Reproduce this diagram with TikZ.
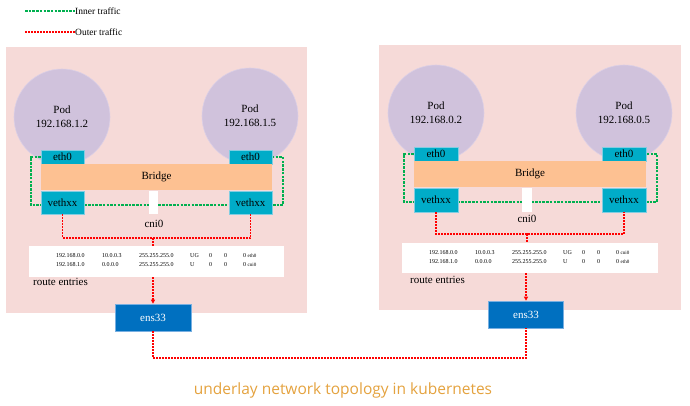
\documentclass[tikz,border=0pt]{standalone}
\usepackage{fontspec}
\setmainfont{Liberation Serif}
\newfontfamily\capfont{Open Sans}
\usetikzlibrary{arrows.meta}
\pgfdeclarelayer{bg}
\pgfdeclarelayer{mid}
\pgfsetlayers{bg,mid,main}
\definecolor{panelbg}{RGB}{246,218,216}
\definecolor{podc}{RGB}{208,194,220}
\definecolor{podb}{RGB}{220,208,230}
\definecolor{cyanb}{RGB}{0,172,200}
\definecolor{cyanl}{RGB}{130,205,225}
\definecolor{bridgec}{RGB}{253,193,146}
\definecolor{ensc}{RGB}{0,112,192}
\definecolor{ensl}{RGB}{120,175,225}
\definecolor{gline}{RGB}{0,176,80}
\definecolor{rline}{RGB}{255,0,0}
\definecolor{capc}{RGB}{228,162,62}
\newcommand{\rtrow}[7]{\makebox[46pt][l]{#1}\makebox[37pt][l]{#2}\makebox[51pt][l]{#3}\makebox[19pt][l]{#4}\makebox[15pt][l]{#5}\makebox[19pt][l]{#6}{#7}}
\tikzset{
  panel/.style={fill=panelbg, draw=none, inner sep=0pt},
  pod/.style={circle, fill=podc, draw=podb, line width=0.6pt, minimum size=96pt, inner sep=0pt, align=center, font=\fontsize{11}{14}\selectfont},
  ifbox/.style={rectangle, fill=cyanb, draw=cyanl, line width=0.6pt, inner sep=0pt, font=\fontsize{11}{13}\selectfont},
  bridgebox/.style={rectangle, fill=bridgec, draw=none, inner sep=0pt, font=\fontsize{11}{13}\selectfont},
  cnibar/.style={rectangle, fill=white, draw=none, inner sep=0pt, minimum width=9pt, minimum height=23pt},
  routebox/.style={rectangle, fill=white, draw=none, inner sep=0pt},
  routetxt/.style={anchor=west, inner sep=0pt, font=\fontsize{6}{7}\selectfont},
  ensbox/.style={rectangle, fill=ensc, draw=ensl, line width=0.6pt, inner sep=0pt, text=white, font=\fontsize{11}{13}\selectfont, minimum width=76pt, minimum height=27pt},
  lbl/.style={inner sep=0pt, font=\fontsize{11}{13}\selectfont},
  greenl/.style={draw=gline, line width=1.1pt, dash pattern=on 2.5pt off 1.2pt},
  redl/.style={draw=rline, line width=1.1pt, dash pattern=on 2pt off 1pt},
  redarrow/.style={redl, -{Triangle[length=4pt,width=4pt]}},
}
\begin{document}
\begin{tikzpicture}[x=1pt,y=-1pt]
\useasboundingbox (0,0) rectangle (690,406);

% legend
\coordinate (lg1) at (25,11);
\coordinate (lg2) at (25,32);
\node[anchor=west, inner sep=0pt, font=\fontsize{9.5}{11}\selectfont] (leg1) at (75,11) {Inner traffic};
\node[anchor=west, inner sep=0pt, font=\fontsize{9.5}{11}\selectfont] (leg2) at (75,32) {Outer traffic};
\draw[greenl] (lg1) -- (leg1.west);
\draw[redl] (lg2) -- (leg2.west);

% panels and pods (background layer)
\begin{pgfonlayer}{bg}
\node[panel, minimum width=301pt, minimum height=266pt] (panelL) at (156.5,180) {};
\node[panel, minimum width=302pt, minimum height=265pt] (panelR) at (530,177.5) {};
\node[pod] (podL1) at (62,117) {Pod\\192.168.1.2};
\node[pod] (podL2) at (250,116) {Pod\\192.168.1.5};
\node[pod] (podR1) at (436,113) {Pod\\192.168.0.2};
\node[pod] (podR2) at (624,113) {Pod\\192.168.0.5};
\end{pgfonlayer}

% green loop coordinates
\coordinate (gL1) at (31,205);
\coordinate (gL2) at (283,205);
\coordinate (gR1) at (404,202);
\coordinate (gR2) at (657,202);

% interface boxes (left)
\node[ifbox, minimum width=43pt, minimum height=14pt] (ethL1) at (62.5,157) {eth0};
\node[ifbox, minimum width=43pt, minimum height=14pt] (ethL2) at (250.5,157) {eth0};
\node[ifbox, minimum width=43pt, minimum height=23pt] (vethL1) at (62.5,202.5) {vethxx};
\node[ifbox, minimum width=43pt, minimum height=23pt] (vethL2) at (250.5,202.5) {vethxx};
% interface boxes (right)
\node[ifbox, minimum width=44pt, minimum height=14pt] (ethR1) at (436,154) {eth0};
\node[ifbox, minimum width=44pt, minimum height=14pt] (ethR2) at (624,154) {eth0};
\node[ifbox, minimum width=44pt, minimum height=24pt] (vethR1) at (436,200) {vethxx};
\node[ifbox, minimum width=44pt, minimum height=24pt] (vethR2) at (624,200) {vethxx};

% green loops (behind the boxes)
\begin{pgfonlayer}{mid}
\draw[greenl] (ethL1.west) -| (gL1) -- (gL2) |- (ethL2.east);
\draw[greenl] (ethR1.west) -| (gR1) -- (gR2) |- (ethR2.east);
\end{pgfonlayer}

% bridges
\node[bridgebox, minimum width=231pt, minimum height=26pt] (bridgeL) at (156.5,177) {Bridge};
\node[bridgebox, minimum width=232pt, minimum height=26pt] (bridgeR) at (530,174) {Bridge};

% cni bars and labels
\node[cnibar] (cniL) at (153.5,202.5) {};
\node[cnibar, minimum width=10pt, minimum height=24pt] (cniR) at (527,200) {};
\node[lbl] (cniLt) at (154,224) {cni0};
\node[lbl] (cniRt) at (527,219) {cni0};

% route boxes
\node[routebox, minimum width=255pt, minimum height=31pt] (routeL) at (156.5,261.5) {};
\node[routebox, minimum width=256pt, minimum height=30pt] (routeR) at (530,258) {};
\node[routetxt] (rL1) at (56,256) {\rtrow{192.168.0.0}{10.0.0.3}{255.255.255.0}{UG}{0}{0}{0 {\fontsize{5}{6}\selectfont eth0}}};
\node[routetxt] (rL2) at (56,265) {\rtrow{192.168.1.0}{0.0.0.0}{255.255.255.0}{U}{0}{0}{0 {\fontsize{5}{6}\selectfont cni0}}};
\node[routetxt] (rR1) at (429,253) {\rtrow{192.168.0.0}{10.0.0.3}{255.255.255.0}{UG}{0}{0}{0 {\fontsize{5}{6}\selectfont cni0}}};
\node[routetxt] (rR2) at (429,262) {\rtrow{192.168.1.0}{0.0.0.0}{255.255.255.0}{U}{0}{0}{0 {\fontsize{5}{6}\selectfont eth0}}};
\node[lbl, anchor=west] (reL) at (33,282) {route entries};
\node[lbl, anchor=west] (reR) at (410,280) {route entries};

% ens33
\node[ensbox] (ensL) at (153,317.5) {ens33};
\node[ensbox, minimum width=75pt] (ensR) at (526,314.5) {ens33};

% red paths
\coordinate (jL) at (153,238);
\coordinate (jR) at (527,234);
\draw[redl] (vethL1.south) |- (jL) -| (vethL2.south);
\draw[redl] (jL) -- (jL |- routeL.north);
\draw[redarrow] (ensL.north |- routeL.south) -- (ensL.north);
\draw[redl] (vethR1.south) |- (jR) -| (vethR2.south);
\draw[redl] (jR) -- (jR |- routeR.north);
\draw[redarrow] (ensR.north |- routeR.south) -- (ensR.north);

\coordinate (bot) at (340,358);
\draw[redl] (ensL.south) |- (bot) -| (ensR.south);

% caption
\node[inner sep=0pt, text=capc, font=\capfont\fontsize{15.5}{18}\selectfont] (cap) at (343,390) {underlay network topology in kubernetes};
\end{tikzpicture}
\end{document}
